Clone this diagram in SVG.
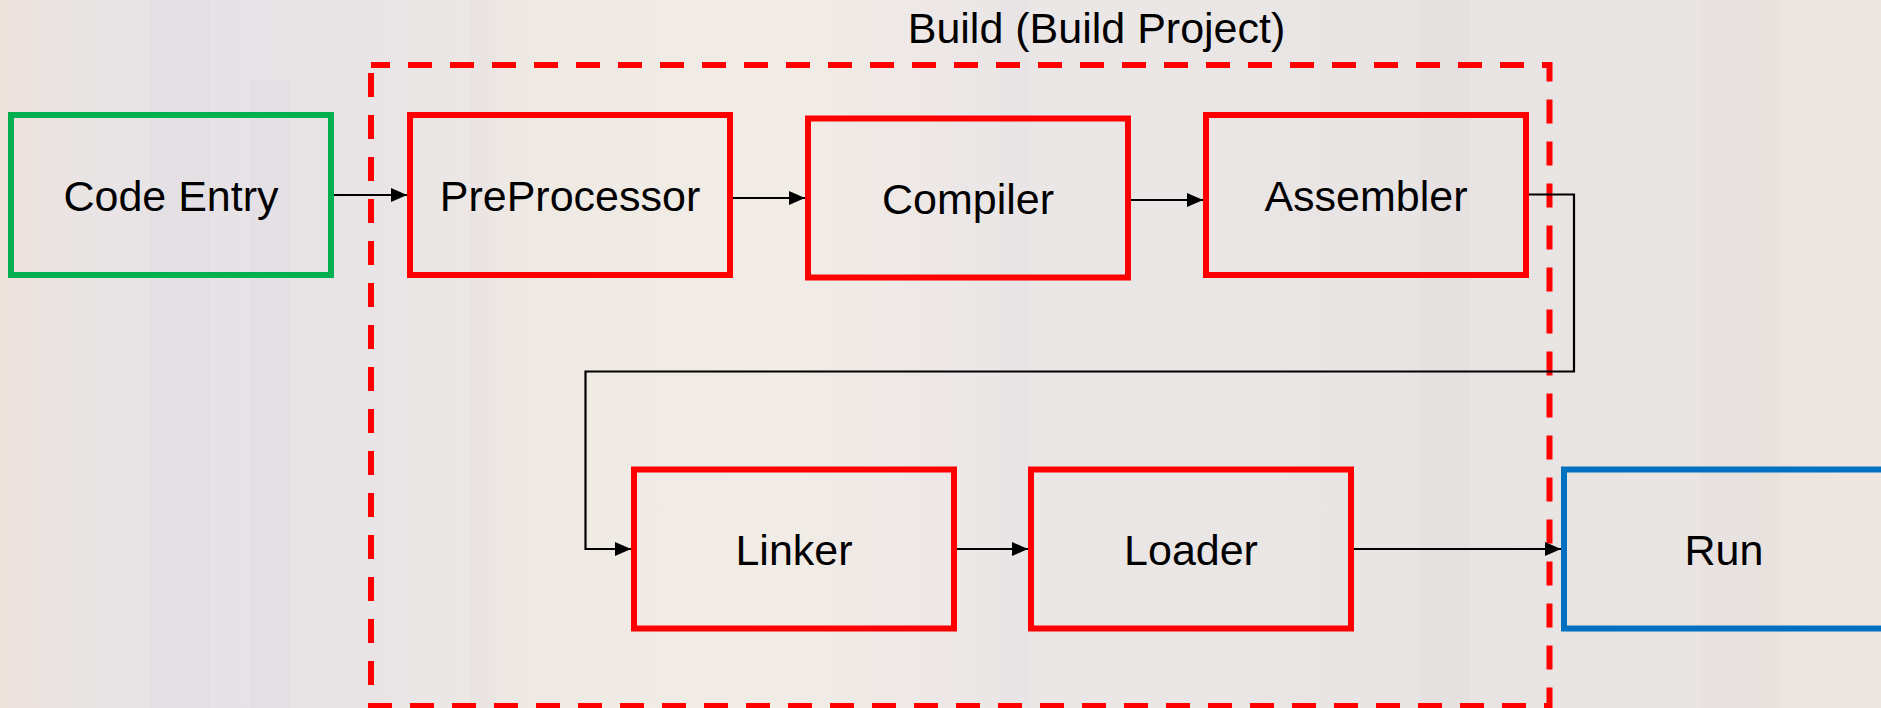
<svg xmlns="http://www.w3.org/2000/svg" width="1881" height="708" viewBox="0 0 1881 708">
  <defs>
    <linearGradient id="bg" x1="0" y1="0" x2="1" y2="0">
      <stop offset="0" stop-color="#EFE3DC"/>
      <stop offset="0.04" stop-color="#EAE4E4"/>
      <stop offset="0.12" stop-color="#E6E2E6"/>
      <stop offset="0.2" stop-color="#E9E5E6"/>
      <stop offset="0.3" stop-color="#F0EAE4"/>
      <stop offset="0.42" stop-color="#F2ECE6"/>
      <stop offset="0.52" stop-color="#ECE7E7"/>
      <stop offset="0.65" stop-color="#EAE6E6"/>
      <stop offset="0.78" stop-color="#E8E4E3"/>
      <stop offset="0.9" stop-color="#EAE5E3"/>
      <stop offset="1" stop-color="#EEE6E1"/>
    </linearGradient>
    <marker id="arrow" viewBox="0 0 16 14" refX="16" refY="7" markerUnits="userSpaceOnUse" markerWidth="16" markerHeight="14" orient="auto">
      <path d="M0,0 L16,7 L0,14 z" fill="#000"/>
    </marker>
    <style>
      .lbl { font-family: "Liberation Sans", Arial, sans-serif; font-size: 43px; fill: #000; text-anchor: middle; }
      .box { fill: none; stroke-width: 6; }
      .red { stroke: #FF0000; }
      .green { stroke: #00B050; }
      .blue { stroke: #0070C0; }
      .conn { fill: none; stroke: #000; stroke-width: 2.2; marker-end: url(#arrow); }
      .stripe { opacity: 0.09; }
    </style>
  </defs>

  <!-- background -->
  <rect x="0" y="0" width="1881" height="708" fill="url(#bg)"/>
  <g id="background-texture">
    <rect class="stripe" x="150" y="0" width="60" height="708" fill="#C9C3CF"/>
    <rect class="stripe" x="250" y="80" width="40" height="628" fill="#CFC7D0"/>
    <rect class="stripe" x="470" y="0" width="25" height="708" fill="#D5CCD3"/>
    <rect class="stripe" x="1000" y="0" width="30" height="708" fill="#D3CDD3"/>
    <rect class="stripe" x="1420" y="0" width="50" height="708" fill="#CFC9CC"/>
    <rect class="stripe" x="1700" y="0" width="80" height="708" fill="#D2CBC8"/>
  </g>

  <!-- group frame -->
  <g id="build-group">
    <rect x="371" y="65" width="1178.5" height="641" fill="none" stroke="#FF0000" stroke-width="6" stroke-dasharray="24 18" stroke-dashoffset="5"/>
    <text class="lbl" x="1096.5" y="43">Build (Build Project)</text>
  </g>

  <!-- connectors -->
  <g id="connectors">
    <path class="conn" d="M334,195 H407"/>
    <path class="conn" d="M733,198 H805"/>
    <path class="conn" d="M1131,200 H1203"/>
    <path class="conn" d="M1529,194.5 H1574 V371.5 H585.5 V549 H631"/>
    <path class="conn" d="M957,549 H1028"/>
    <path class="conn" d="M1354,549 H1561"/>
  </g>

  <!-- nodes -->
  <g id="code-entry">
    <rect class="box green" x="11" y="115" width="320" height="160"/>
    <text class="lbl" x="171" y="210.5">Code Entry</text>
  </g>
  <g id="preprocessor">
    <rect class="box red" x="410" y="115" width="320" height="160"/>
    <text class="lbl" x="570" y="210.5">PreProcessor</text>
  </g>
  <g id="compiler">
    <rect class="box red" x="808" y="118.5" width="320" height="159"/>
    <text class="lbl" x="968" y="214">Compiler</text>
  </g>
  <g id="assembler">
    <rect class="box red" x="1206" y="115" width="320" height="160"/>
    <text class="lbl" x="1366" y="210.5">Assembler</text>
  </g>
  <g id="linker">
    <rect class="box red" x="634" y="469.5" width="320" height="159"/>
    <text class="lbl" x="794" y="564.5">Linker</text>
  </g>
  <g id="loader">
    <rect class="box red" x="1031" y="469.5" width="320" height="159"/>
    <text class="lbl" x="1191" y="564.5">Loader</text>
  </g>
  <g id="run">
    <rect class="box blue" x="1564" y="469.5" width="320" height="159"/>
    <text class="lbl" x="1724" y="564.5">Run</text>
  </g>
</svg>
